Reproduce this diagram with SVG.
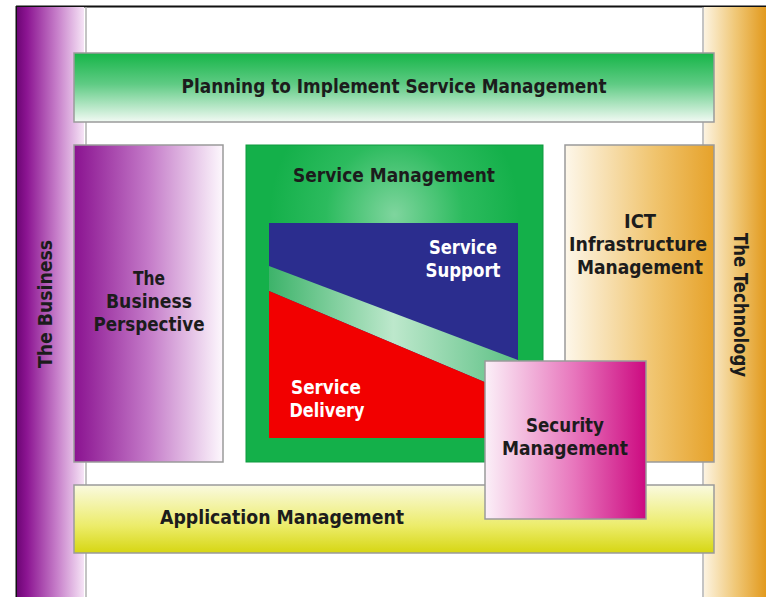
<svg xmlns="http://www.w3.org/2000/svg" width="766" height="597" viewBox="0 0 766 597">
<defs>
<linearGradient id="gBiz" x1="0" y1="0" x2="1" y2="0"><stop offset="0" stop-color="#6e0676"/><stop offset="0.15" stop-color="#8c1592"/><stop offset="0.6" stop-color="#c77fca"/><stop offset="1" stop-color="#f6e4f6"/></linearGradient>
<linearGradient id="gPersp" x1="0" y1="0" x2="1" y2="0"><stop offset="0" stop-color="#8a1290"/><stop offset="0.5" stop-color="#c47ac8"/><stop offset="1" stop-color="#fdf8fd"/></linearGradient>
<linearGradient id="gTech" x1="0" y1="0" x2="1" y2="0"><stop offset="0" stop-color="#fcf3e0"/><stop offset="0.5" stop-color="#f0c878"/><stop offset="1" stop-color="#e29a1e"/></linearGradient>
<linearGradient id="gICT" x1="0" y1="0" x2="1" y2="0"><stop offset="0" stop-color="#fdf7ea"/><stop offset="0.6" stop-color="#f0c46e"/><stop offset="1" stop-color="#e6a22a"/></linearGradient>
<linearGradient id="gPlan" x1="0" y1="0" x2="0" y2="1"><stop offset="0" stop-color="#16b548"/><stop offset="0.45" stop-color="#5fcb84"/><stop offset="1" stop-color="#f2faf4"/></linearGradient>
<radialGradient id="gSM" cx="0.5" cy="0.22" r="0.42"><stop offset="0" stop-color="#7fd59e"/><stop offset="0.55" stop-color="#2cbb5e"/><stop offset="1" stop-color="#14b04a"/></radialGradient>
<linearGradient id="gStripe" x1="0" y1="0" x2="1" y2="0"><stop offset="0" stop-color="#3db36a"/><stop offset="0.5" stop-color="#bde8cc"/><stop offset="1" stop-color="#5cc084"/></linearGradient>
<linearGradient id="gSec" x1="0" y1="0" x2="1" y2="0"><stop offset="0" stop-color="#fbf0f8"/><stop offset="0.55" stop-color="#e877bd"/><stop offset="1" stop-color="#cc0a80"/></linearGradient>
<linearGradient id="gApp" x1="0" y1="0" x2="0" y2="1"><stop offset="0" stop-color="#fafae0"/><stop offset="0.6" stop-color="#ecec6a"/><stop offset="1" stop-color="#d6d612"/></linearGradient>
</defs>
<style>
.t{font-family:"DejaVu Sans Condensed","DejaVu Sans",sans-serif;font-weight:bold;font-size:20px;fill:#1c1c1c;text-anchor:middle}
.w{fill:#ffffff}
.box{stroke:#9a9a9a;stroke-width:1.5}
</style>
<rect x="0" y="0" width="766" height="597" fill="#ffffff"/>
<g id="frame">
<rect x="16" y="6" width="750" height="591" fill="#ffffff"/>
<line x1="16" y1="6.5" x2="766" y2="6.5" stroke="#111" stroke-width="2"/>
<line x1="16.5" y1="6" x2="16.5" y2="597" stroke="#111" stroke-width="2"/>
<line x1="86" y1="7" x2="86" y2="597" stroke="#b0b0b0" stroke-width="1.5"/>
<line x1="703" y1="7" x2="703" y2="597" stroke="#b0b0b0" stroke-width="1.5"/>
</g>
<g id="the-business">
<rect x="17" y="7" width="67" height="590" fill="url(#gBiz)"/>
<text class="t" transform="translate(52,304) rotate(-90)" textLength="128" lengthAdjust="spacingAndGlyphs">The Business</text>
</g>
<g id="the-technology">
<rect x="704" y="7" width="62" height="590" fill="url(#gTech)"/>
<text class="t" transform="translate(734,305) rotate(90)" textLength="144" lengthAdjust="spacingAndGlyphs">The Technology</text>
</g>
<g id="planning">
<rect class="box" x="74" y="53" width="640" height="69" fill="url(#gPlan)"/>
<text class="t" x="394" y="93" textLength="425" lengthAdjust="spacingAndGlyphs">Planning to Implement Service Management</text>
</g>
<g id="business-perspective">
<rect class="box" x="74" y="145" width="149" height="317" fill="url(#gPersp)"/>
<text class="t" x="149" y="285" textLength="32" lengthAdjust="spacingAndGlyphs">The</text>
<text class="t" x="149" y="308" textLength="86" lengthAdjust="spacingAndGlyphs">Business</text>
<text class="t" x="149" y="331" textLength="111" lengthAdjust="spacingAndGlyphs">Perspective</text>
</g>
<g id="ict">
<rect class="box" x="565" y="145" width="149" height="317" fill="url(#gICT)"/>
<text class="t" x="640" y="228" textLength="32" lengthAdjust="spacingAndGlyphs">ICT</text>
<text class="t" x="638" y="251" textLength="138" lengthAdjust="spacingAndGlyphs">Infrastructure</text>
<text class="t" x="640" y="274" textLength="126" lengthAdjust="spacingAndGlyphs">Management</text>
</g>
<g id="application-management">
<rect class="box" x="74" y="485" width="640" height="68" fill="url(#gApp)"/>
<text class="t" x="282" y="524" textLength="244" lengthAdjust="spacingAndGlyphs">Application Management</text>
</g>
<g id="service-management">
<rect x="246" y="145" width="297" height="317" fill="url(#gSM)" stroke="#0e9a3e" stroke-width="1"/>
<text class="t" x="394" y="182" textLength="202" lengthAdjust="spacingAndGlyphs">Service Management</text>
<g id="service-support">
<rect x="269" y="223" width="249" height="215" fill="#2b2d8e"/>
</g>
<polygon points="269,266 518,360 518,396 269,291" fill="url(#gStripe)"/>
<g id="service-delivery">
<polygon points="269,291 518,396 518,438 269,438" fill="#f20000"/>
<text class="t w" x="326" y="394" textLength="70" lengthAdjust="spacingAndGlyphs">Service</text>
<text class="t w" x="327" y="417" textLength="75" lengthAdjust="spacingAndGlyphs">Delivery</text>
</g>
<text class="t w" x="463" y="254" textLength="68" lengthAdjust="spacingAndGlyphs">Service</text>
<text class="t w" x="463" y="277" textLength="75" lengthAdjust="spacingAndGlyphs">Support</text>
</g>
<g id="security-management">
<rect class="box" x="485" y="361" width="161" height="158" fill="url(#gSec)"/>
<text class="t" x="565" y="432" textLength="78" lengthAdjust="spacingAndGlyphs">Security</text>
<text class="t" x="565" y="455" textLength="126" lengthAdjust="spacingAndGlyphs">Management</text>
</g>
<g id="connectors"/>
</svg>
